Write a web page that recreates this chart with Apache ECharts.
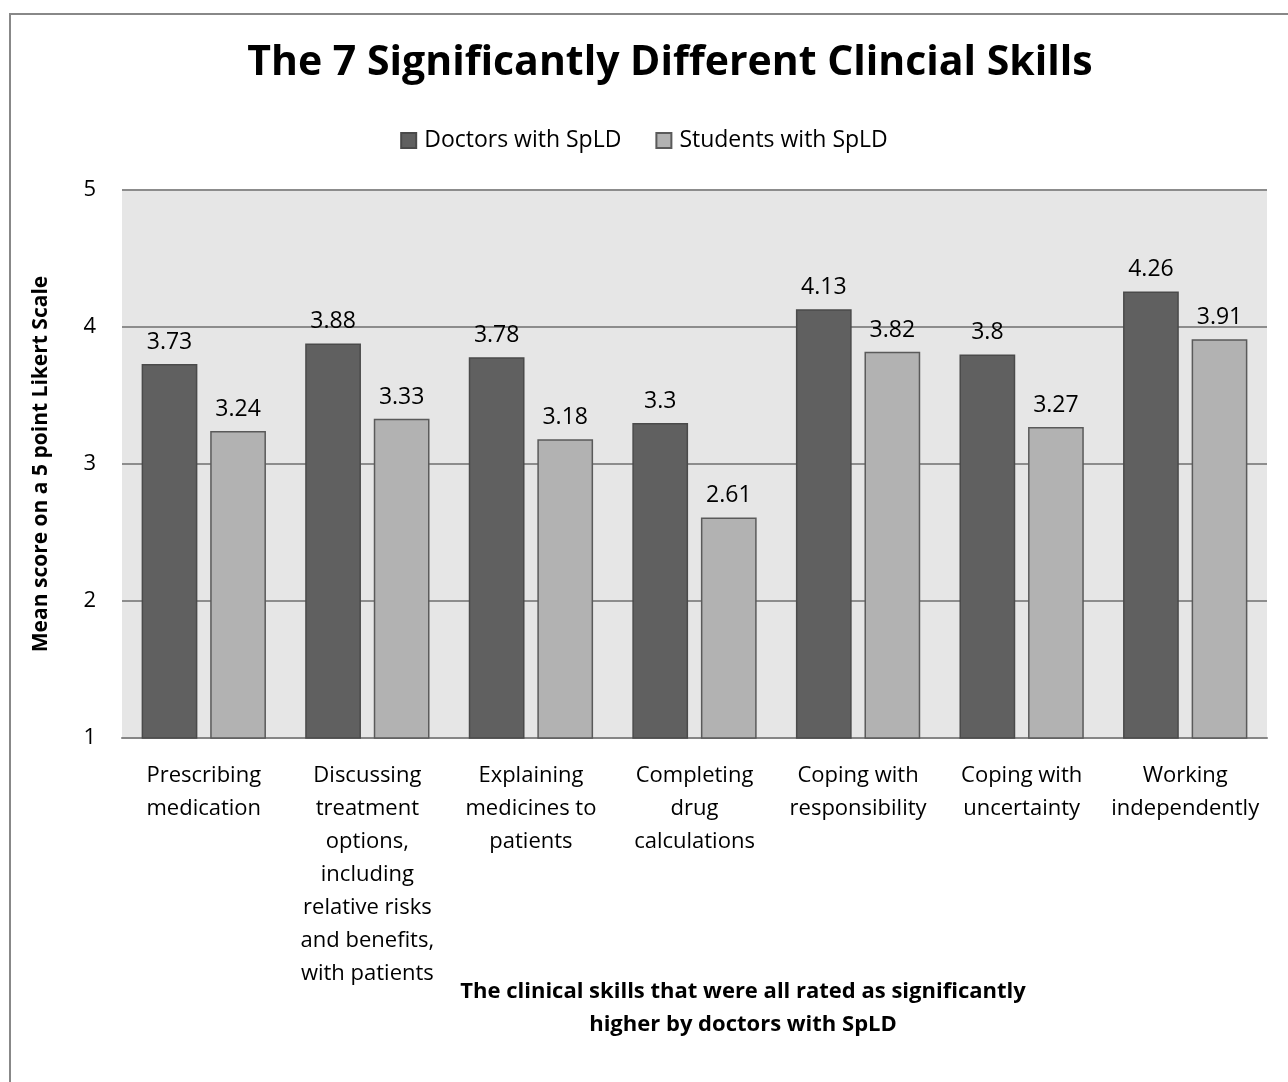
<!DOCTYPE html>
<html>
<head>
<meta charset="utf-8">
<script src="https://cdn.jsdelivr.net/npm/echarts@6/dist/echarts.min.js"></script>
<style>
  html, body { margin: 0; padding: 0; background: #fff; }
  #chart { width: 1288px; height: 1082px; }
</style>
</head>
<body>
<div id="chart"></div>
<script>
const categories = [
  'Prescribing\nmedication',
  'Discussing\ntreatment\noptions,\nincluding\nrelative risks\nand benefits,\nwith patients',
  'Explaining\nmedicines to\npatients',
  'Completing\ndrug\ncalculations',
  'Coping with\nresponsibility',
  'Coping with\nuncertainty',
  'Working\nindependently'
];
const doctors = [3.73, 3.88, 3.78, 3.3, 4.13, 3.8, 4.26];
const students = [3.24, 3.33, 3.18, 2.61, 3.82, 3.27, 3.91];

const font = '"Open Sans", "Noto Sans", sans-serif';
const chart = echarts.init(document.getElementById('chart'));

chart.setOption({
  animation: false,
  textStyle: { fontFamily: font },
  title: [{
    text: 'The 7 Significantly Different Clincial Skills',
    left: 665, top: 38, textAlign: 'center',
    textStyle: { fontSize: 41, fontWeight: 'bold', color: '#000', fontFamily: font }
  }, {
    text: 'The clinical skills that were all rated as significantly\nhigher by doctors with SpLD',
    left: 738, top: 970, textAlign: 'center',
    textStyle: { fontSize: 22, fontWeight: 'bold', color: '#000', lineHeight: 33, fontFamily: font }
  }],
  legend: {
    top: 124, left: 'center',
    itemWidth: 15, itemHeight: 15, itemGap: 34,
    icon: 'rect',
    textStyle: { fontSize: 23, color: '#000', fontFamily: font, padding: [0, 0, 0, 3] },
    data: ['Doctors with SpLD', 'Students with SpLD']
  },
  graphic: [{
    type: 'rect',
    shape: { x: 10, y: 14, width: 1290, height: 1090 },
    style: { fill: 'none', stroke: '#888', lineWidth: 2 },
    silent: true
  }],
  grid: {
    left: 122, right: 21, top: 190, bottom: 344,
    show: true, backgroundColor: '#e6e6e6', borderWidth: 0
  },
  xAxis: {
    type: 'category',
    data: categories,
    axisLine: { lineStyle: { color: '#868686', width: 2 } },
    axisTick: { show: false },
    axisLabel: { fontSize: 22, color: '#000', lineHeight: 33, margin: 21, interval: 0, fontFamily: font }
  },
  yAxis: {
    type: 'value', min: 1, max: 5, interval: 1,
    name: 'Mean score on a 5 point Likert Scale',
    nameLocation: 'middle', nameGap: 70, nameRotate: 90,
    nameTextStyle: { fontSize: 21, fontWeight: 'bold', color: '#000', fontFamily: font },
    axisLine: { show: false },
    axisTick: { show: false },
    axisLabel: { fontSize: 22, color: '#000', margin: 26, fontFamily: font },
    splitLine: { lineStyle: { color: '#8c8c8c', width: 2 } }
  },
  series: [{
    name: 'Doctors with SpLD',
    type: 'bar',
    data: doctors,
    barGap: '23%', barCategoryGap: '24%',
    itemStyle: { color: '#606060', borderColor: '#4a4a4a', borderWidth: 1.5 },
    label: { show: true, position: 'top', distance: 10, fontSize: 23, color: '#000', fontFamily: font }
  }, {
    name: 'Students with SpLD',
    type: 'bar',
    data: students,
    itemStyle: { color: '#b2b2b2', borderColor: '#5a5a5a', borderWidth: 1.5 },
    label: { show: true, position: 'top', distance: 10, fontSize: 23, color: '#000', fontFamily: font }
  }]
});
</script>
</body>
</html>
